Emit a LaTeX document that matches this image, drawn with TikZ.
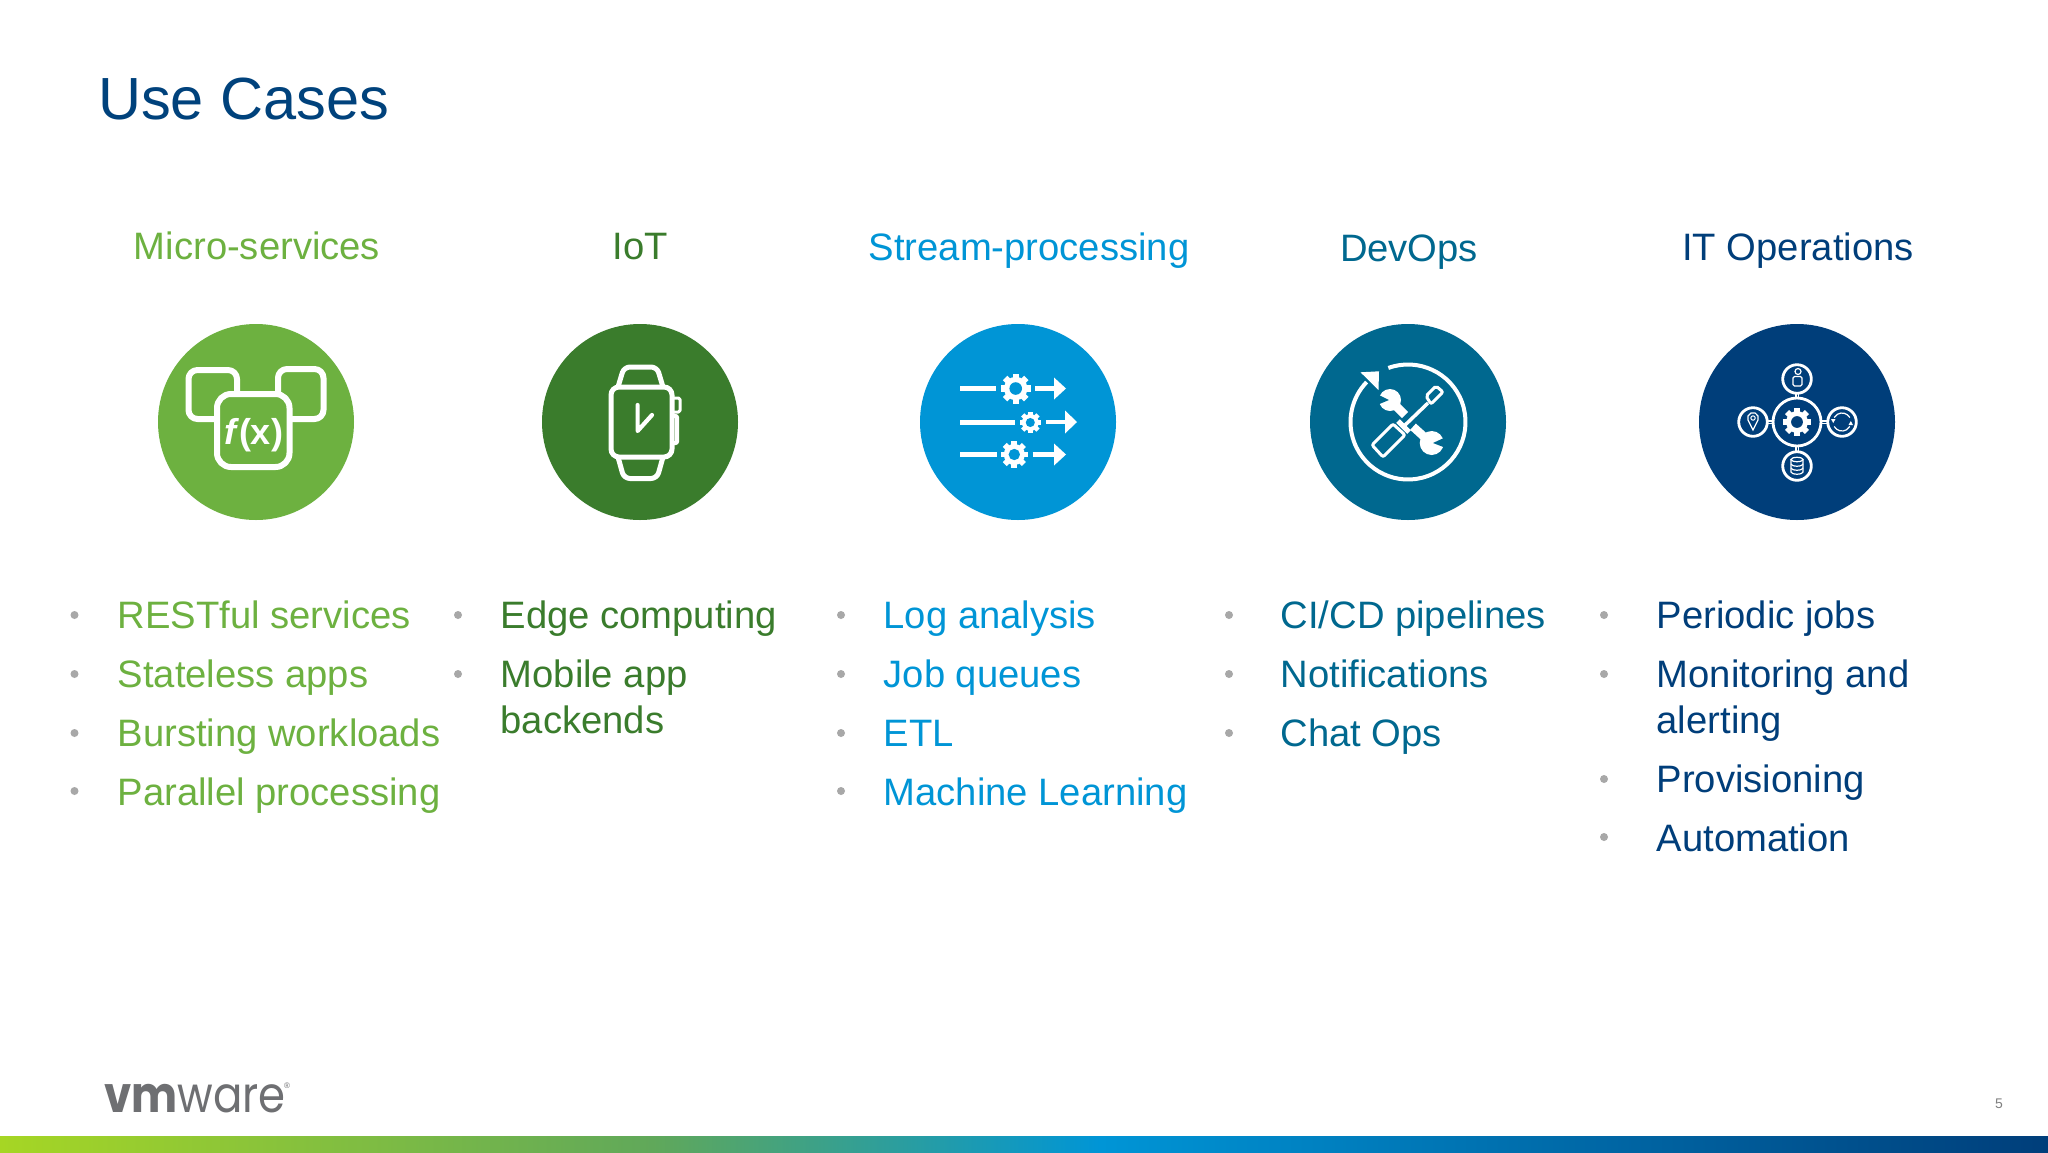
\documentclass[tikz,border=0pt]{standalone}
\usepackage{fontspec}
\setmainfont{Liberation Sans}
\newfontfamily\logofont{Poppins}
\definecolor{cMicro}{HTML}{6DB140}
\definecolor{cIot}{HTML}{3A7C2C}
\definecolor{cStream}{HTML}{0095D6}
\definecolor{cDevops}{HTML}{00688F}
\definecolor{cIt}{HTML}{003E7A}
\definecolor{cTitle}{HTML}{00427C}
\definecolor{cBullet}{HTML}{A8A8A8}
\definecolor{cLogo}{HTML}{6E6F72}
\definecolor{cLime}{HTML}{A6D624}
\definecolor{cMid}{HTML}{60A85A}
\tikzset{
  titletext/.style={anchor=base west,inner sep=0pt,font=\fontsize{59.5}{70}\selectfont,text=cTitle},
  headtext/.style={anchor=base,inner sep=0pt,font=\fontsize{38.2}{44}\selectfont},
  itemtext/.style={anchor=base west,inner sep=0pt,align=left,font=\fontsize{38.2}{46}\selectfont},
  iconcircle/.style={circle,minimum size=196pt,inner sep=0pt,draw=none},
  ico/.style={draw=white,line width=6pt,line join=round},
  thin ico/.style={draw=white,line width=2.8pt,line join=round},
}
\newcommand\gearglyph[4]{%
  \foreach \a in {0,45,...,315}{\draw[white,line width=#3*.42pt] (#1,#2) ++(\a:#3*.6) -- ++(\a:#3*.4);}
  \fill[white] (#1,#2) circle (#3*.78);
  \fill[#4] (#1,#2) circle (#3*.42);
}
\newcommand\bul[2]{\fill[cBullet] (#1,#2) circle (4);}
\begin{document}
\begin{tikzpicture}[x=1pt,y=-1pt]
\useasboundingbox (0,0) rectangle (2048,1152);
\fill[white] (0,0) rectangle (2048,1152);
\node[titletext] (title) at (98,119.5) {Use Cases};
% headers
\node[headtext,text=cMicro]  (h1) at (257,259) {Micro-services};
\node[headtext,text=cIot]    (h2) at (640.5,259) {IoT};
\node[headtext,text=cStream] (h3) at (1029,260) {Stream-processing};
\node[headtext,text=cDevops] (h4) at (1409,261) {DevOps};
\node[headtext,text=cIt]     (h5) at (1798,260) {IT Operations};
% circles
\node[iconcircle,fill=cMicro]  (c1) at (256,422) {};
\node[iconcircle,fill=cIot]    (c2) at (640,422) {};
\node[iconcircle,fill=cStream] (c3) at (1018,422) {};
\node[iconcircle,fill=cDevops] (c4) at (1408,422) {};
\node[iconcircle,fill=cIt]     (c5) at (1797,422) {};
% icon 1
\begin{scope}[shift={(c1.center)}]
  \draw[ico,rounded corners=9pt] (-67.5,-52) rectangle (-19,-3);
  \draw[ico,rounded corners=9pt] (22,-53) rectangle (67.5,-3);
  \draw[ico,fill=cMicro,rounded corners=14pt] (-39,-28) rectangle (33.5,45);
  \node[inner sep=0pt,text=white,font=\fontsize{36}{36}\selectfont\bfseries] (fx) at (-2.5,13) {\textit{f}(x)};
\end{scope}
% icon 2
\begin{scope}[shift={(c2.center)}]
  \draw[ico,line width=5pt,rounded corners=6pt] (-22,-35) -- (-16,-55) -- (17,-55) -- (23,-35);
  \draw[ico,line width=5pt,rounded corners=6pt] (-22,35) -- (-16,56.5) -- (17,56.5) -- (23,35);
  \draw[ico,line width=5pt,rounded corners=8pt] (-29,-35) rectangle (32,35);
  \draw[ico,line width=3pt,rounded corners=1.5pt] (34,-24) -- (40,-24) -- (40,-10) -- (34,-10);
  \draw[ico,line width=4pt,rounded corners=1pt] (34,-6) -- (37,-6) -- (37,21) -- (34,21);
  \draw[ico,line width=4.2pt,line cap=round] (-2.4,-17) -- (-2.4,9) -- (12,-7);
\end{scope}
% icon 3
\begin{scope}[shift={(c3.center)}]
  \draw[white,line width=5pt] (-58,-33.5) -- (-22,-33.5);
  \gearglyph{-2.3}{-33.5}{15}{cStream}
  \draw[white,line width=4.5pt] (17,-33.5) -- (37,-33.5);
  \fill[white] (36,-44.5) -- (48,-33.5) -- (36,-22.5) -- cycle;
  \draw[white,line width=5pt] (-58,0) -- (-3,0);
  \gearglyph{12.3}{0.5}{10.8}{cStream}
  \draw[white,line width=4.5pt] (28,0) -- (48,0);
  \fill[white] (47,-11.5) -- (59,0) -- (47,11.5) -- cycle;
  \draw[white,line width=5pt] (-58,32.5) -- (-21,32.5);
  \gearglyph{-3.7}{32.5}{13.5}{cStream}
  \draw[white,line width=4.5pt] (14.7,32.5) -- (37,32.5);
  \fill[white] (36,21.5) -- (48,32.5) -- (36,43.5) -- cycle;
\end{scope}
% icon 4
\begin{scope}[shift={(c4.center)}]
  \draw[white,line width=4pt] (-110:57.5) arc[start angle=-110,end angle=224,radius=57.5];
  \fill[white] (-47.5,-49.7) -- (-29,-50.7) -- (-29.5,-32) -- cycle;
  % upper wrench
  \draw[white,line width=8.5pt] (-18,-22) -- (-3,-7);
  \fill[white] (-18,-22) circle (11);
  \fill[cDevops] (-19,-22) -- (-31,-28) -- (-31,-17) -- cycle;
  % lower wrench
  \draw[white,line width=8.5pt] (5,4.7) -- (23,21);
  \fill[white] (23.7,21) circle (12);
  \fill[cDevops] (25,21) -- (38,15) -- (38,26) -- cycle;
  % screwdriver
  \draw[cDevops,line width=7pt] (22,-21) -- (-6,7);
  \draw[white,line width=3.5pt] (20,-19) -- (-6,6);
  \draw[white,line width=3pt,fill=cDevops,rounded corners=2pt] (18,-26) -- (28,-36) -- (35,-30) -- (23,-18) -- cycle;
  \draw[white,line width=3pt,fill=cDevops,rounded corners=2pt] (-36,23) -- (-15,2) -- (-3,13) -- (-25,35) -- cycle;
  \draw[white,line width=5pt] (-10,-1) -- (1,10);
\end{scope}
% icon 5
\begin{scope}[shift={(c5.center)}]
  \draw[thin ico,line width=1.8pt] (-1.4,-24) -- (-1.4,-29) (1.4,-24) -- (1.4,-29) (-1.4,24) -- (-1.4,29) (1.4,24) -- (1.4,29);
  \draw[thin ico,line width=1.8pt] (-24,-1.4) -- (-30,-1.4) (-24,1.4) -- (-30,1.4) (24,-1.4) -- (30,-1.4) (24,1.4) -- (30,1.4);
  \draw[thin ico] (0,0) circle (24);
  \gearglyph{0}{0}{14}{cIt}
  \draw[thin ico] (0,-43) circle (14.3);
  \draw[thin ico] (-44,0) circle (14.3);
  \draw[thin ico] (45,0) circle (14.3);
  \draw[thin ico] (0,44) circle (14.3);
  % person
  \draw[white,line width=1.2pt] (1,-50.5) circle (3);
  \draw[white,line width=1.2pt,rounded corners=1.5pt] (-4,-45.5) -- (5,-45.5) -- (5,-36) -- (-4,-36) -- cycle;
  % pin
  \draw[white,line width=1.2pt] (-44,8) -- (-49,-2) arc[start angle=158,end angle=382,radius=5.4] -- cycle;
  \draw[white,line width=1pt] (-44,-4) circle (2.2);
  % refresh
  \draw[white,line width=1.2pt] (45,0) ++(150:9) arc[start angle=150,end angle=30,radius=9];
  \draw[white,line width=1.2pt] (45,0) ++(-30:9) arc[start angle=-30,end angle=-150,radius=9];
  \fill[white] (34,-3) -- (38.5,-3) -- (36.2,1) -- cycle;
  \fill[white] (51.5,3) -- (56,3) -- (53.8,-1) -- cycle;
  % database
  \draw[white,line width=1.2pt] (0,37.5) ellipse (6 and 2.2);
  \draw[white,line width=1.2pt] (-6,37.5) -- (-6,50) arc[start angle=180,end angle=0,x radius=6,y radius=2.2] -- (6,37.5);
  \draw[white,line width=1.2pt] (-6,42) arc[start angle=180,end angle=0,x radius=6,y radius=2.2];
  \draw[white,line width=1.2pt] (-6,46) arc[start angle=180,end angle=0,x radius=6,y radius=2.2];
\end{scope}
% lists
\bul{74.5}{615}\bul{74.5}{674}\bul{74.5}{733}\bul{74.5}{791}
\node[itemtext,text=cMicro] (a1) at (117.5,628) {RESTful services};
\node[itemtext,text=cMicro] (a2) at (117.5,687) {Stateless apps};
\node[itemtext,text=cMicro] (a3) at (117.5,746) {Bursting workloads};
\node[itemtext,text=cMicro] (a4) at (117.5,805) {Parallel processing};
\bul{458}{615}\bul{458}{674}
\node[itemtext,text=cIot] (b1) at (500.5,628) {Edge computing};
\node[itemtext,text=cIot] (b2) at (500.5,733) {Mobile app\\backends};
\bul{841}{615}\bul{841}{674}\bul{841}{733}\bul{841}{791}
\node[itemtext,text=cStream] (d1) at (883.5,628) {Log analysis};
\node[itemtext,text=cStream] (d2) at (883.5,687) {Job queues};
\node[itemtext,text=cStream] (d3) at (883.5,746) {ETL};
\node[itemtext,text=cStream] (d4) at (883.5,805) {Machine Learning};
\bul{1229}{615}\bul{1229}{674}\bul{1229}{733}
\node[itemtext,text=cDevops] (e1) at (1280.5,628) {CI/CD pipelines};
\node[itemtext,text=cDevops] (e2) at (1280.5,687) {Notifications};
\node[itemtext,text=cDevops] (e3) at (1280.5,746) {Chat Ops};
\bul{1604}{615}\bul{1604}{674}\bul{1604}{779}\bul{1604}{837}
\node[itemtext,text=cIt] (f1) at (1656.5,628) {Periodic jobs};
\node[itemtext,text=cIt] (f2) at (1656.5,733) {Monitoring and\\alerting};
\node[itemtext,text=cIt] (f3) at (1656.5,792) {Provisioning};
\node[itemtext,text=cIt] (f4) at (1656.5,851) {Automation};
% footer
\node[anchor=base west,inner sep=0pt,text=cLogo,font=\fontsize{50}{50}\selectfont\logofont] (logo) at (104,1112) {\scalebox{.87}[1]{\textbf{vm}ware}};
\node[inner sep=0pt,text=cLogo,font=\fontsize{8}{8}\selectfont] (reg) at (287,1086) {®};
\node[inner sep=0pt,text=gray,font=\fontsize{14}{14}\selectfont] (pg) at (1999,1104) {5};
\shade[left color=cLime,right color=cMid] (0,1136) rectangle (653,1152);
\shade[left color=cMid,right color=cStream] (653,1136) rectangle (1100,1152);
\shade[left color=cStream,right color=cIt] (1100,1136) rectangle (2048,1152);
\end{tikzpicture}
\end{document}
